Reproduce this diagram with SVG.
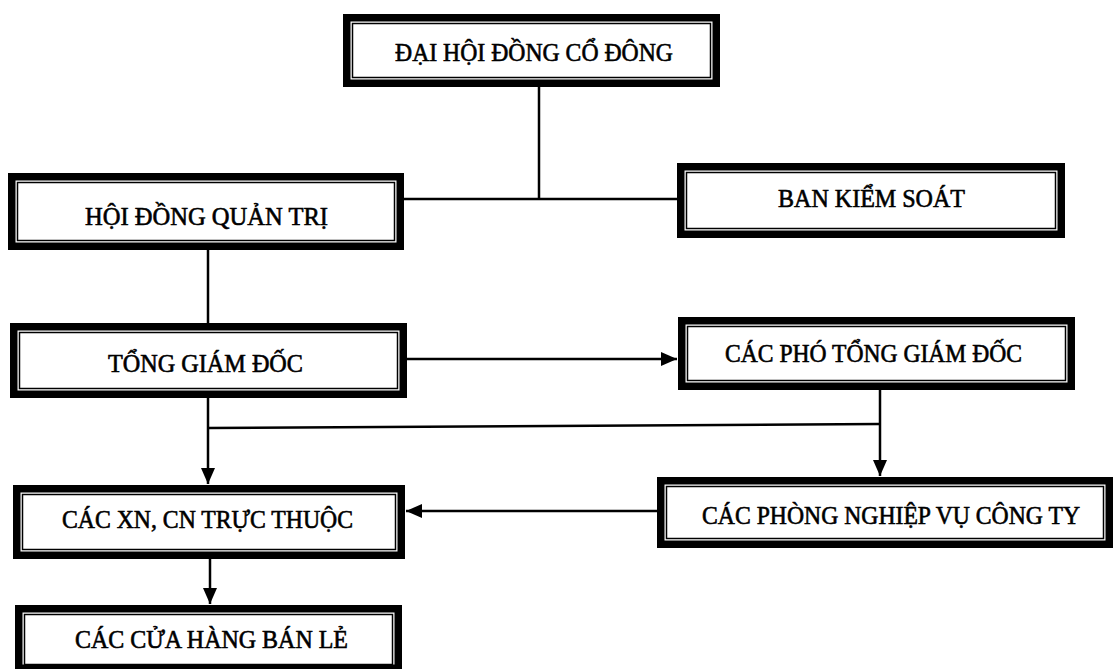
<svg xmlns="http://www.w3.org/2000/svg" width="1114" height="669" viewBox="0 0 1114 669">
<style>
.outer{fill:#fff;stroke:#000;stroke-width:7.5}
.inner{fill:none;stroke:#000;stroke-width:1.5}
.lbl{font-family:"Liberation Serif","Times New Roman",serif;font-size:25px;fill:#000;stroke:#000;stroke-width:0.6;text-anchor:middle}
.ln{fill:none;stroke:#000;stroke-width:2.5}
</style>
<defs>
<marker id="arr" markerUnits="userSpaceOnUse" markerWidth="18" markerHeight="18" viewBox="0 0 18 18" refX="17" refY="9" orient="auto">
<path d="M1,2 L17,9 L1,16 Z" fill="#000"/>
</marker>
</defs>
<rect width="1114" height="669" fill="#fff"/>
<g id="connectors">
<path class="ln" d="M539,87 V199"/>
<path class="ln" d="M404,199 H677"/>
<path class="ln" d="M208,250 V323"/>
<path class="ln" d="M407,359 H677" marker-end="url(#arr)"/>
<path class="ln" d="M208,398 V484" marker-end="url(#arr)"/>
<path class="ln" d="M208,428 L880,424"/>
<path class="ln" d="M880,390 V476" marker-end="url(#arr)"/>
<path class="ln" d="M657,511 H406" marker-end="url(#arr)"/>
<path class="ln" d="M210,559 V604" marker-end="url(#arr)"/>
</g>
<g id="n1">
<rect class="outer" x="346.75" y="17.75" width="369.5" height="65.5"/>
<rect class="inner" x="352.5" y="23.5" width="358" height="54"/>
<text class="lbl" x="534" y="61" textLength="278" lengthAdjust="spacingAndGlyphs">ĐẠI HỘI ĐỒNG CỔ ĐÔNG</text>
</g>
<g id="n2">
<rect class="outer" x="11.75" y="176.75" width="388.5" height="69.5"/>
<rect class="inner" x="17.5" y="182.5" width="377" height="58"/>
<text class="lbl" x="206.5" y="225" textLength="243" lengthAdjust="spacingAndGlyphs">HỘI ĐỒNG QUẢN TRỊ</text>
</g>
<g id="n3">
<rect class="outer" x="680.75" y="166.75" width="380.5" height="67.5"/>
<rect class="inner" x="686.5" y="172.5" width="369" height="56"/>
<text class="lbl" x="871.5" y="207" textLength="187" lengthAdjust="spacingAndGlyphs">BAN KIỂM SOÁT</text>
</g>
<g id="n4">
<rect class="outer" x="13.75" y="326.75" width="389.5" height="67.5"/>
<rect class="inner" x="19.5" y="332.5" width="378" height="56"/>
<text class="lbl" x="205.5" y="372" textLength="195" lengthAdjust="spacingAndGlyphs">TỔNG GIÁM ĐỐC</text>
</g>
<g id="n5">
<rect class="outer" x="681.75" y="320.75" width="389.5" height="65.5"/>
<rect class="inner" x="687.5" y="326.5" width="378" height="54"/>
<text class="lbl" x="873.5" y="362" textLength="297" lengthAdjust="spacingAndGlyphs">CÁC PHÓ TỔNG GIÁM ĐỐC</text>
</g>
<g id="n6">
<rect class="outer" x="16.75" y="488.75" width="384.5" height="66.5"/>
<rect class="inner" x="22.5" y="494.5" width="373" height="55"/>
<text class="lbl" x="207.5" y="528" textLength="291" lengthAdjust="spacingAndGlyphs">CÁC XN, CN TRỰC THUỘC</text>
</g>
<g id="n7">
<rect class="outer" x="660.75" y="480.75" width="448.5" height="63.5"/>
<rect class="inner" x="666.5" y="486.5" width="437" height="52"/>
<text class="lbl" x="891" y="524" textLength="378" lengthAdjust="spacingAndGlyphs">CÁC PHÒNG NGHIỆP VỤ CÔNG TY</text>
</g>
<g id="n8">
<rect class="outer" x="18.75" y="608.75" width="379.5" height="59.5"/>
<rect class="inner" x="24.5" y="614.5" width="368" height="50"/>
<text class="lbl" x="211.5" y="648" textLength="273" lengthAdjust="spacingAndGlyphs">CÁC CỬA HÀNG BÁN LẺ</text>
</g>
</svg>
